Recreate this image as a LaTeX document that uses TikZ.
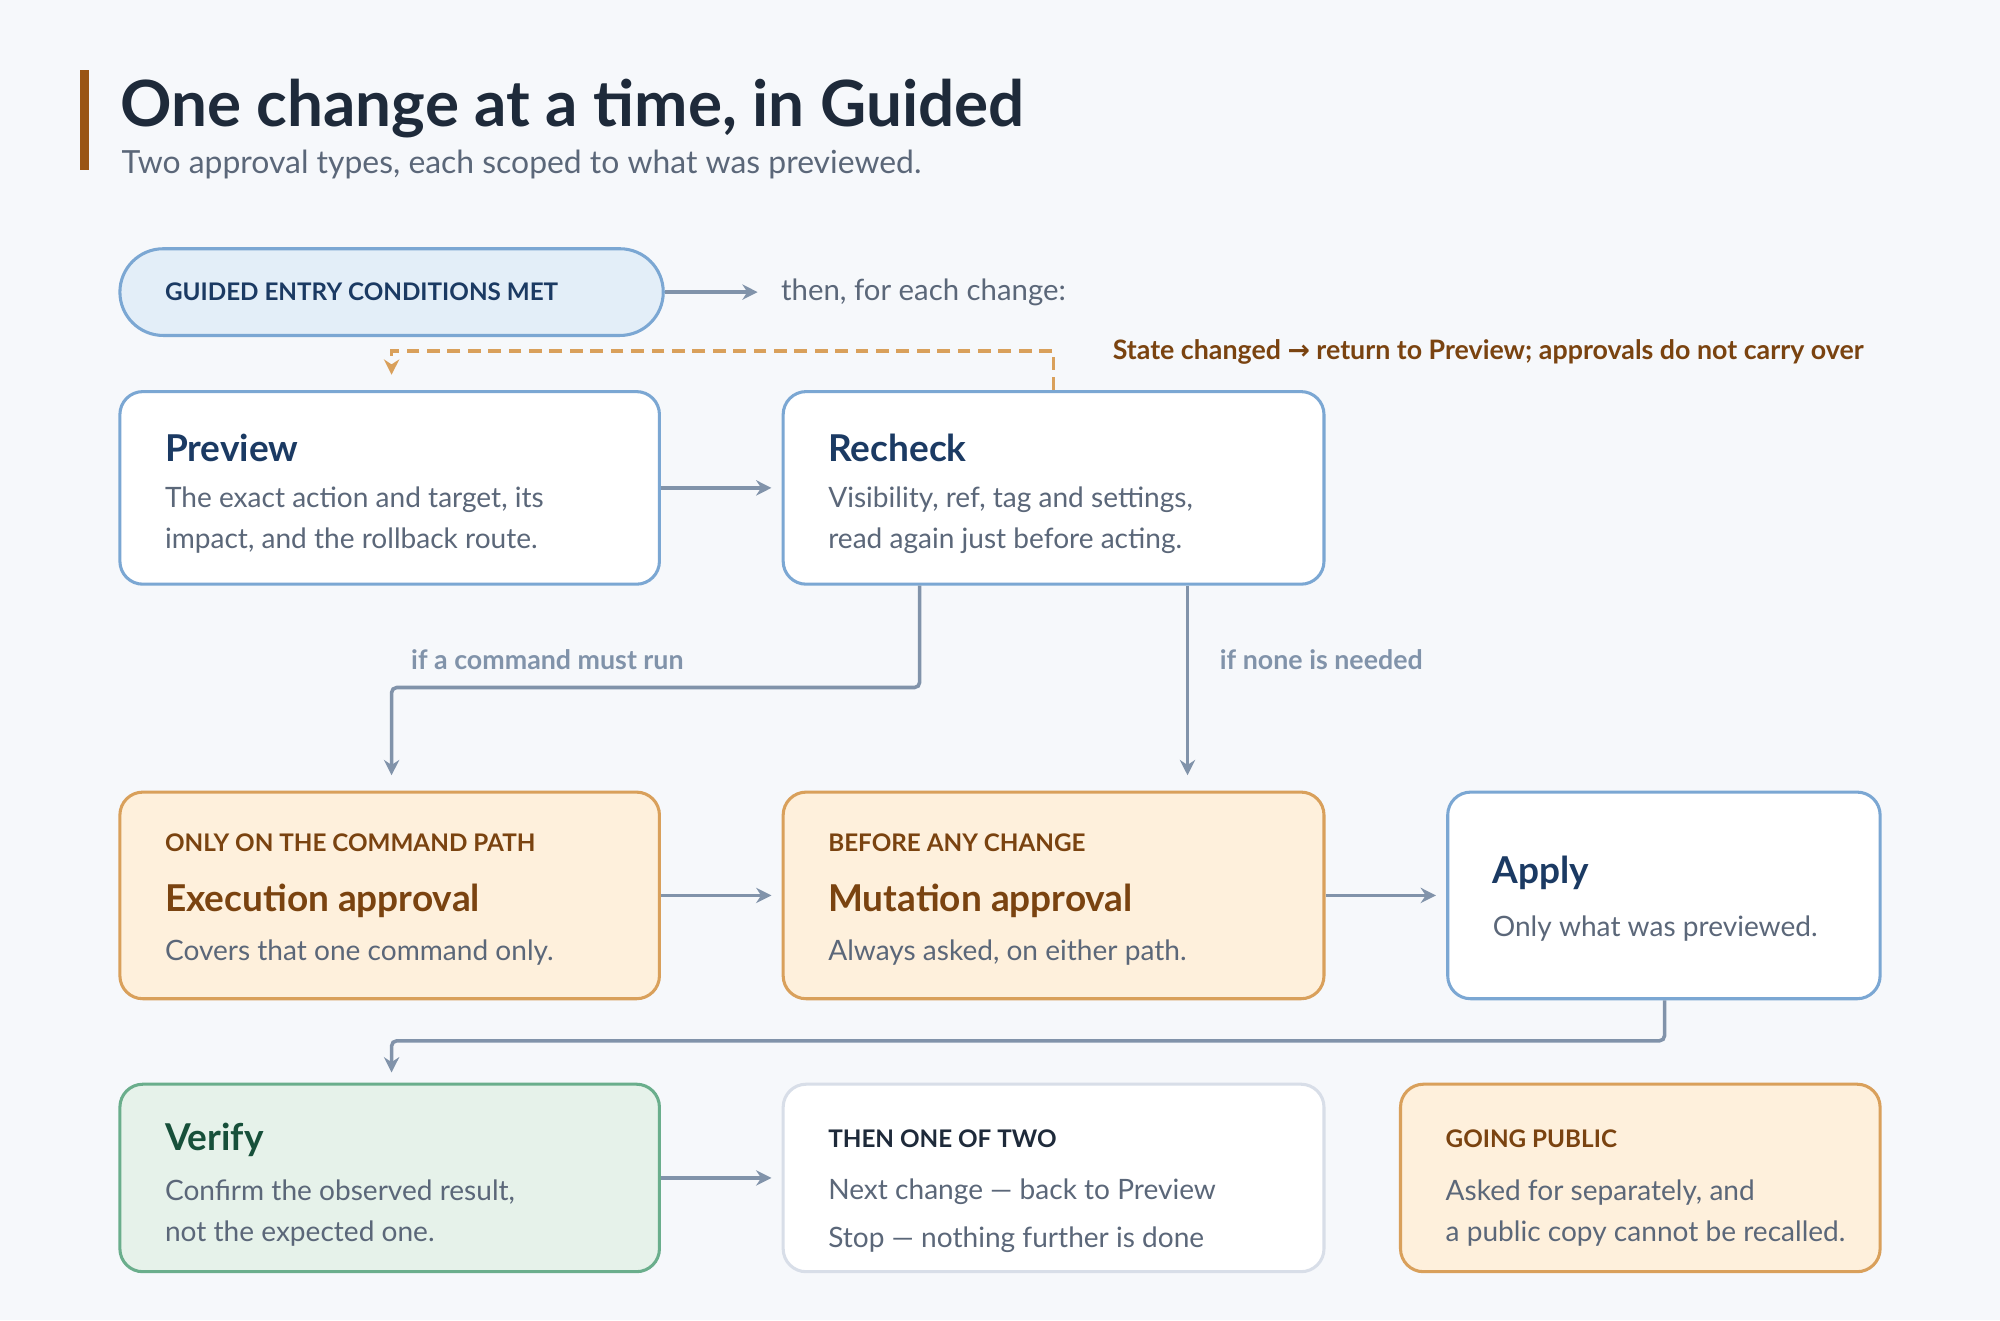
\documentclass[tikz,border=0pt]{standalone}
\usepackage{fontspec}
\setmainfont{Lato}
\usetikzlibrary{positioning,arrows.meta}
\definecolor{bgc}{HTML}{F6F8FB}
\definecolor{bluebd}{HTML}{7BA7D3}
\definecolor{bluefill}{HTML}{E3EEF8}
\definecolor{orbd}{HTML}{D9A05B}
\definecolor{orfill}{HTML}{FEF0DC}
\definecolor{grbd}{HTML}{6AAE8C}
\definecolor{grfill}{HTML}{E6F2EA}
\definecolor{greybd}{HTML}{D8DEE8}
\definecolor{navy}{HTML}{1B3A63}
\definecolor{ink}{HTML}{1E2A3A}
\definecolor{txt}{HTML}{5B6779}
\definecolor{brown}{HTML}{7A4310}
\definecolor{dgreen}{HTML}{17503A}
\definecolor{arr}{HTML}{8193AA}
\definecolor{bar}{HTML}{9A5514}
\definecolor{dash}{HTML}{D9A05B}

\begin{document}
\begin{tikzpicture}[
    x=0.5pt, y=-0.5pt,
    box/.style={draw, line width=1.2pt, rounded corners=9pt, inner sep=0pt},
    blue/.style={box, draw=bluebd, fill=white},
    orange/.style={box, draw=orbd, fill=orfill},
    txtl/.style={anchor=west, inner sep=0pt, text=txt, font=\fontsize{11}{13}\selectfont, align=left},
    head/.style={anchor=west, inner sep=0pt, text=navy, font=\fontsize{14.5}{16}\selectfont\bfseries},
    tag/.style={anchor=west, inner sep=0pt, font=\fontsize{9.5}{11}\selectfont\bfseries},
    lbl/.style={inner sep=0pt, text=arr, font=\fontsize{10.5}{12}\selectfont\bfseries},
    arrow/.style={-{Stealth[length=6pt,width=6pt]}, draw=arr, line width=1.4pt}
]
    \useasboundingbox (0,0) rectangle (1568,1035);
    \fill[bgc] (0,0) rectangle (1568,1035);
    \fill[bar] (63,55) rectangle (70,133);
    \node[anchor=base west, inner sep=0pt, text=ink, font=\fontsize{25}{30}\selectfont\bfseries] (title) at (94,99) {One change at a time, in Guided};
    \node[anchor=base west, inner sep=0pt, text=txt, font=\fontsize{12.5}{14}\selectfont] (sub) at (95,136) {Two approval types, each scoped to what was previewed.};

    % entry
    \node[box, draw=bluebd, fill=bluefill, rounded corners=17pt, minimum width=213pt, minimum height=34pt] (entry) at (307,229) {};
    \node[tag, text=navy] at (129,229) {GUIDED ENTRY CONDITIONS MET};
    \coordinate (then) at (594,229);
    \node[txtl, font=\fontsize{11.5}{13}\selectfont] (thentxt) at (612,229) {then, for each change:};

    % row one
    \node[blue, minimum width=211.5pt, minimum height=75.5pt] (preview) at (305.5,382.5) {};
    \node[head] at (129,351) {Preview};
    \node[txtl] at (129,408) {The exact action and target, its\\[3pt]impact, and the rollback route.};
    \node[blue, minimum width=212pt, minimum height=75.5pt] (recheck) at (826,382.5) {};
    \node[head] at (649,351) {Recheck};
    \node[txtl] at (649,408) {Visibility, ref, tag and settings,\\[3pt]read again just before acting.};

    % row two
    \node[orange, minimum width=211.5pt, minimum height=81pt] (exec) at (305.5,702) {};
    \node[tag, text=brown] at (129,661) {ONLY ON THE COMMAND PATH};
    \node[head, text=brown] at (129,706) {Execution approval};
    \node[txtl] at (129,747) {Covers that one command only.};
    \node[orange, minimum width=212pt, minimum height=81pt] (mutation) at (826,702) {};
    \node[tag, text=brown] at (649,661) {BEFORE ANY CHANGE};
    \node[head, text=brown] at (649,706) {Mutation approval};
    \node[txtl] at (649,747) {Always asked, on either path.};
    \node[blue, minimum width=169.5pt, minimum height=81pt] (apply) at (1304.5,702) {};
    \node[head] at (1170,684) {Apply};
    \node[txtl] at (1170,728) {Only what was previewed.};

    % row three
    \node[box, draw=grbd, fill=grfill, minimum width=211.5pt, minimum height=73.5pt] (verify) at (305.5,923.5) {};
    \node[head, text=dgreen] at (129,894) {Verify};
    \node[txtl] at (129,951) {Confirm the observed result,\\[3pt]not the expected one.};
    \node[box, draw=greybd, fill=white, minimum width=212pt, minimum height=73.5pt] (oneoftwo) at (826,923.5) {};
    \node[tag, text=ink] at (649,893) {THEN ONE OF TWO};
    \node[txtl] at (649,953) {Next change — back to Preview\\[6pt]Stop — nothing further is done};
    \node[orange, minimum width=188pt, minimum height=73.5pt] (public) at (1286,923.5) {};
    \node[tag, text=brown] at (1133,893) {GOING PUBLIC};
    \node[txtl] at (1133,951) {Asked for separately, and\\[3pt]a public copy cannot be recalled.};

    % connectors
    \draw[arrow] (entry.east) -- (then);
    \draw[arrow] (preview.east) -- ([xshift=-4pt]recheck.west);
    \draw[-{Stealth[length=6pt,width=6pt]}, draw=dash, line width=1.4pt, dash pattern=on 5pt off 3pt]
        (recheck.north -| 826,0) -- (826,275) -- (307,275) -- ([yshift=6pt]preview.north -| 307,0);
    \node[anchor=west, inner sep=0pt, text=brown, font=\fontsize{10.5}{12}\selectfont\bfseries] (statelbl) at (872,276) {State changed {\fontspec{DejaVu Sans}\bfseries\fontsize{10.5}{12}\selectfont→} return to Preview; approvals do not carry over};
    \draw[arrow, rounded corners=2pt] (recheck.south -| 721,0) -- (721,539) -- (307,539) -- ([yshift=6pt]exec.north -| 307,0);
    \node[lbl, anchor=west] at (322,517) {if a command must run};
    \draw[arrow] (recheck.south -| 931,0) -- ([yshift=6pt]mutation.north -| 931,0);
    \node[lbl, anchor=west] at (956,517) {if none is needed};
    \draw[arrow] (exec.east) -- ([xshift=-4pt]mutation.west);
    \draw[arrow] (mutation.east) -- ([xshift=-4pt]apply.west);
    \draw[arrow, rounded corners=2pt] (apply.south -| 1305,0) -- (1305,816) -- (307,816) -- ([yshift=4pt]verify.north -| 307,0);
    \draw[arrow] (verify.east) -- ([xshift=-4pt]oneoftwo.west);
\end{tikzpicture}
\end{document}
